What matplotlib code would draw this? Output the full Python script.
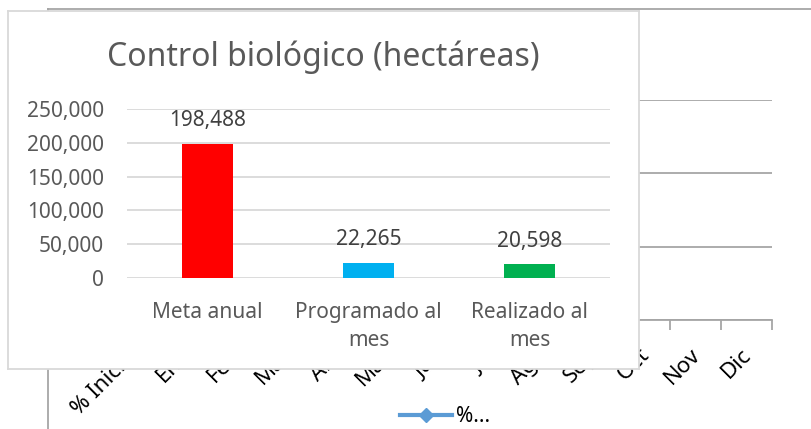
import matplotlib
matplotlib.use("Agg")
import matplotlib.pyplot as plt
import matplotlib.transforms as mtrans
from matplotlib.lines import Line2D
import numpy as np

plt.rcParams['font.family'] = ['Noto Sans', 'DejaVu Sans']

# Background chart (mostly hidden)
months = ["% Inicial", "Ene", "Feb", "Mar", "Abr", "May", "Jun", "Jul", "Ago", "Sep", "Oct", "Nov", "Dic"]
pct_values = [np.nan] * len(months)
bg_series_name = "%..."

# Foreground bar chart
title = "Control biológico (hectáreas)"
categories = ["Meta anual", "Programado al\nmes", "Realizado al\nmes"]
values = [198488, 22265, 20598]
bar_colors = ["#FF0000", "#00B0F0", "#00B050"]
yticks = [0, 50000, 100000, 150000, 200000, 250000]

W, H = 811, 429
fig = plt.figure(figsize=(W / 100, H / 100), dpi=100)

def fx(px):
    return px / W

def fy(py):
    return 1 - py / H

# ---- background chart ----
ax_bg = fig.add_axes([fx(109), fy(320), fx(772 - 109), (320 - 100) / H])
x = np.arange(len(months))
ax_bg.plot(x, pct_values, color="#5B9BD5", marker="D", lw=3, ms=7, label=bg_series_name)
ax_bg.set_xlim(-0.5, len(months) - 0.5)
ax_bg.set_ylim(0, 3)
ax_bg.set_yticks([0, 1, 2, 3])
ax_bg.set_yticklabels([])
ax_bg.tick_params(axis='y', length=0)
ax_bg.grid(axis='y', color="#A6A6A6", lw=1.3)
ax_bg.set_axisbelow(True)
for s in ["top", "right", "left"]:
    ax_bg.spines[s].set_visible(False)
ax_bg.spines["bottom"].set_color("#A6A6A6")
ax_bg.spines["bottom"].set_linewidth(1.3)
ax_bg.set_xticks(np.arange(len(months) + 1) - 0.5, minor=False)
ax_bg.set_xticklabels([])
ax_bg.tick_params(axis='x', which='major', length=7, color="#A6A6A6", width=1.3)
ax_bg.set_xticks(x, minor=True)
ax_bg.set_xticklabels(months, minor=True, rotation=45, ha='right', va='top',
                      rotation_mode='anchor', fontsize=16, color="black")
ax_bg.tick_params(axis='x', which='minor', length=0, pad=17)
shift = mtrans.ScaledTranslation(-6 / 100, -1 / 100, fig.dpi_scale_trans)
for lbl in ax_bg.get_xticklabels(minor=True):
    lbl.set_transform(lbl.get_transform() + shift)
ax_bg.patch.set_alpha(0)

fig.legend(handles=ax_bg.get_lines(), labels=[bg_series_name], loc='center',
           bbox_to_anchor=(fx(445), fy(417)), frameon=False, fontsize=15,
           handlelength=2.5, handletextpad=0.2, borderpad=0)

# border lines of the background chart
fig.add_artist(Line2D([fx(48), 1.0], [fy(9), fy(9)], color="#A6A6A6", lw=1.3))
fig.add_artist(Line2D([fx(48), fx(48)], [fy(9), 0], color="#A6A6A6", lw=1.3))

# ---- foreground chart box ----
box = fig.add_axes([fx(8), fy(369), fx(639 - 8), (369 - 11) / H])
box.set_xticks([]); box.set_yticks([])
box.set_facecolor("white")
for s in box.spines.values():
    s.set_color("#D9D9D9")
    s.set_linewidth(1.3)
box.set_zorder(5)
box.text(0.5, (369 - 57) / (369 - 11), title, transform=box.transAxes, ha='center', va='center',
         fontsize=23, color="#595959")

ax = fig.add_axes([fx(127), fy(278), fx(610 - 127), (278 - 109) / H])
ax.set_zorder(6)
ax.patch.set_alpha(0)
xb = np.arange(len(categories))
bars = ax.bar(xb, values, width=0.32, color=bar_colors, zorder=3)
ax.set_xlim(-0.5, len(categories) - 0.5)
ax.set_ylim(0, 250000)
ax.set_yticks(yticks)
ax.set_yticklabels([f"{v:,}" for v in yticks], fontsize=15, color="#595959")
ax.grid(axis='y', color="#D9D9D9", lw=1.3, zorder=0)
ax.tick_params(axis='y', length=0, pad=16.5)
ax.set_xticks(xb)
ax.set_xticklabels(categories, fontsize=15, color="#595959", linespacing=1.45)
ax.tick_params(axis='x', length=0, pad=17)
for s in ax.spines.values():
    s.set_visible(False)
for b, v in zip(bars, values):
    ax.annotate(f"{v:,}", (b.get_x() + b.get_width() / 2, v), xytext=(0, 9),
                textcoords='offset points', ha='center', va='bottom', fontsize=15, color="#404040")

fig.savefig("out.png", dpi=100)
